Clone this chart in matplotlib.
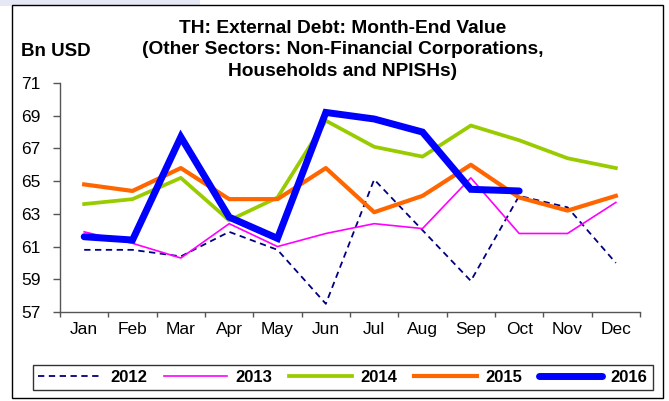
import matplotlib
matplotlib.use("Agg")
import matplotlib.pyplot as plt
from matplotlib.patches import Rectangle
import numpy as np

plt.rcParams['font.family'] = ['Liberation Sans', 'DejaVu Sans']

months = ["Jan", "Feb", "Mar", "Apr", "May", "Jun", "Jul", "Aug", "Sep", "Oct", "Nov", "Dec"]
y2012 = [60.8, 60.8, 60.4, 61.9, 60.8, 57.5, 65.1, 62.0, 58.9, 64.1, 63.4, 60.0]
y2013 = [61.9, 61.2, 60.3, 62.4, 61.0, 61.8, 62.4, 62.1, 65.2, 61.8, 61.8, 63.7]
y2014 = [63.6, 63.9, 65.2, 62.6, 64.0, 68.7, 67.1, 66.5, 68.4, 67.5, 66.4, 65.8]
y2015 = [64.8, 64.4, 65.8, 63.9, 63.9, 65.8, 63.1, 64.1, 66.0, 64.0, 63.2, 64.1]
y2016 = [61.6, 61.4, 67.7, 62.8, 61.5, 69.2, 68.8, 68.0, 64.5, 64.4]
yticks = [57, 59, 61, 63, 65, 67, 69, 71]

W, H = 669, 401
fig = plt.figure(figsize=(W / 100, H / 100), dpi=100)

# outer frame and faint header band
fig.patches.append(Rectangle((0, 1 - 6 / H), 200 / W, 6 / H, transform=fig.transFigure,
                             facecolor="#e6e9f5", edgecolor="none", zorder=0))
fig.patches.append(Rectangle((12 / W, 1 - 398 / H), 651 / W, 393 / H, transform=fig.transFigure,
                             facecolor="none", edgecolor="black", linewidth=1.0, zorder=1))

ax = fig.add_axes([60 / W, 1 - 312 / H, 580 / W, 229 / H])
x = np.arange(len(months))

ax.plot(x, y2012, color="#000080", lw=1.3, ls=(0, (3.5, 2.5)), label="2012")
ax.plot(x, y2013, color="#ff00ff", lw=1.2, label="2013")
ax.plot(x, y2014, color="#99cc00", lw=2.7, label="2014")
ax.plot(x, y2015, color="#ff6600", lw=3.0, label="2015")
ax.plot(np.arange(len(y2016)), y2016, color="#0000ff", lw=5.0, label="2016",
        solid_capstyle="round", solid_joinstyle="miter")

ax.set_xlim(-0.5, 11.5)
ax.set_ylim(57, 71)
ax.set_yticks(yticks)
ax.set_yticklabels([str(v) for v in yticks], fontsize=12.5)
ax.set_xticks(x)
ax.set_xticklabels(months, fontsize=12.5)
ax.set_xticks(np.arange(-0.5, 12, 1), minor=True)
ax.tick_params(axis="x", which="major", length=0, pad=7)
ax.tick_params(axis="x", which="minor", length=3.5, color="#555555", width=1)
ax.tick_params(axis="y", length=5, color="#555555", width=1, pad=9)
for s in ("top", "right"):
    ax.spines[s].set_visible(False)
for s in ("left", "bottom"):
    ax.spines[s].set_color("#555555")
    ax.spines[s].set_linewidth(1.0)

fig.text(343 / W, 1 - 50 / H,
         "TH: External Debt: Month-End Value\n(Other Sectors: Non-Financial Corporations,\nHouseholds and NPISHs)",
         ha="center", va="center", fontsize=13.8, fontweight="bold", linespacing=1.38)
fig.text(21 / W, 1 - 52 / H, "Bn USD", ha="left", va="center", fontsize=13.5, fontweight="bold")

leg = fig.legend(loc="center", bbox_to_anchor=(343 / W, 1 - 377 / H), ncol=5, frameon=True,
                 fancybox=False, edgecolor="black", handlelength=3.8, columnspacing=1.0,
                 handletextpad=0.5, borderpad=0.3, prop={"weight": "bold", "size": 12})
leg.get_frame().set_linewidth(1.0)

fig.savefig("out.png", dpi=100)
